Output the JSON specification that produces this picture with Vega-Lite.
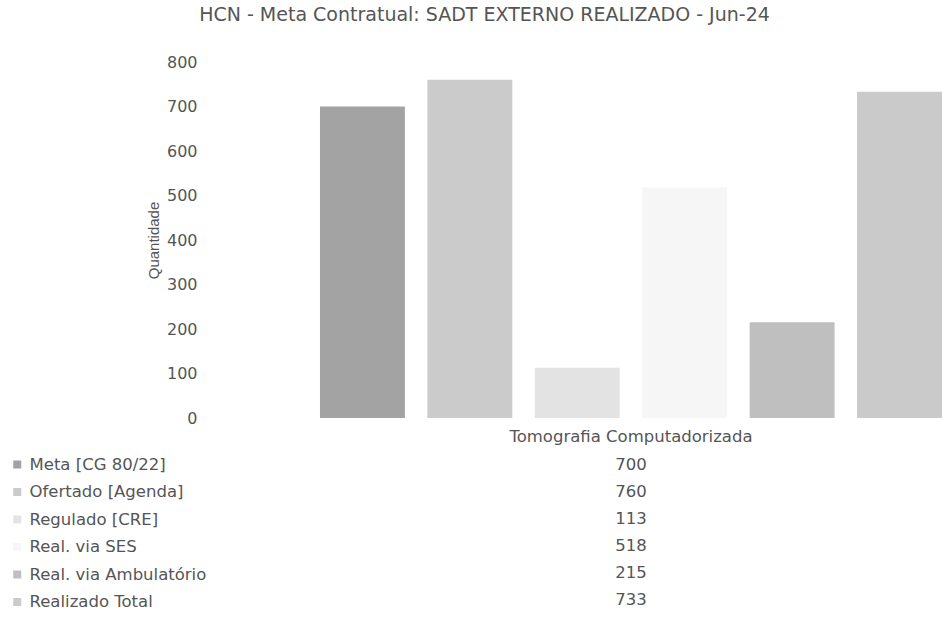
{
  "$schema": "https://vega.github.io/schema/vega-lite/v6.json",
  "padding": {"left": 9, "top": 6, "right": 0, "bottom": 0},
  "background": "white",
  "config": {
    "view": {"stroke": null},
    "font": "DejaVu Sans",
    "text": {"font": "DejaVu Sans"}
  },
  "title": {
    "text": "HCN - Meta Contratual: SADT EXTERNO REALIZADO - Jun-24",
    "font": "DejaVu Sans",
    "fontSize": 19,
    "fontWeight": "normal",
    "color": "#555555",
    "anchor": "middle",
    "dx": 9,
    "offset": 29
  },
  "data": {
    "values": [
      {"category": "Tomografia Computadorizada", "series": "Meta [CG 80/22]", "order": 1, "value": 700},
      {"category": "Tomografia Computadorizada", "series": "Ofertado [Agenda]", "order": 2, "value": 760},
      {"category": "Tomografia Computadorizada", "series": "Regulado [CRE]", "order": 3, "value": 113},
      {"category": "Tomografia Computadorizada", "series": "Real. via SES", "order": 4, "value": 518},
      {"category": "Tomografia Computadorizada", "series": "Real. via Ambulatório", "order": 5, "value": 215},
      {"category": "Tomografia Computadorizada", "series": "Realizado Total", "order": 6, "value": 733}
    ]
  },
  "spacing": 6.5,
  "resolve": {"scale": {"x": "shared", "color": "shared"}},
  "vconcat": [
    {
      "width": 732,
      "height": 356,
      "mark": {"type": "bar"},
      "encoding": {
        "x": {
          "field": "category",
          "type": "nominal",
          "scale": {"paddingInner": 0, "paddingOuter": 0.0884, "align": 1},
          "axis": {
            "title": null,
            "labelAngle": 0,
            "labelFont": "DejaVu Sans",
            "labelFontSize": 16.5,
            "labelColor": "#555555",
            "labelPadding": 10,
            "labelLimit": 0,
            "ticks": false,
            "domain": false
          }
        },
        "xOffset": {
          "field": "series",
          "type": "nominal",
          "sort": {"field": "order"},
          "scale": {"paddingInner": 0.2093, "paddingOuter": 0}
        },
        "y": {
          "field": "value",
          "type": "quantitative",
          "scale": {"domain": [0, 800]},
          "axis": {
            "title": "Quantidade",
            "titleFont": "Liberation Sans",
            "titleFontSize": 15,
            "titleFontWeight": "normal",
            "titleColor": "#555555",
            "titlePadding": 5,
            "values": [0, 100, 200, 300, 400, 500, 600, 700, 800],
            "labelFont": "DejaVu Sans",
            "labelFontSize": 16,
            "labelColor": "#555555",
            "labelPadding": 13,
            "ticks": false,
            "domain": false,
            "grid": false
          }
        },
        "color": {
          "field": "series",
          "type": "nominal",
          "sort": {"field": "order"},
          "scale": {
            "range": ["#a3a3a3", "#cbcbcb", "#e3e3e3", "#f6f6f6", "#bfbfbf", "#cacaca"]
          },
          "legend": {
            "title": null,
            "orient": "none",
            "legendX": -201,
            "legendY": 394.25,
            "symbolType": "square",
            "symbolSize": 64,
            "symbolStrokeWidth": 0,
            "labelFont": "DejaVu Sans",
            "labelFontSize": 16.5,
            "labelColor": "#555555",
            "labelOffset": 4,
            "labelLimit": 0,
            "rowPadding": 10.5,
            "padding": 0
          }
        }
      }
    },
    {
      "width": 732,
      "height": 162,
      "mark": {"type": "text", "fontSize": 16.5, "color": "#555555", "baseline": "middle", "font": "DejaVu Sans"},
      "encoding": {
        "x": {"field": "category", "type": "nominal", "axis": null},
        "y": {
          "field": "series",
          "type": "nominal",
          "sort": {"field": "order"},
          "scale": {"paddingInner": 0, "paddingOuter": 0},
          "axis": null
        },
        "text": {"field": "value", "type": "quantitative"}
      }
    }
  ]
}
